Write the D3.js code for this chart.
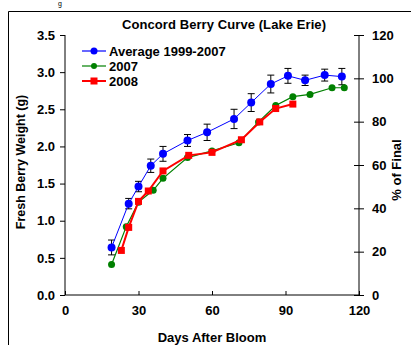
<!DOCTYPE html>
<html><head><meta charset="utf-8">
<script src="https://cdn.jsdelivr.net/npm/d3@7"></script>
<style>body{margin:0;background:#fff}svg{display:block}text{font-family:"Liberation Sans",Arial,sans-serif;font-weight:bold;fill:#000}</style>
</head><body><svg id="c" width="411" height="345"></svg>
<script>
const title = "Concord Berry Curve (Lake Erie)";
const xTicks = [0, 30, 60, 90, 120];
const yTicks = [0, 0.5, 1.0, 1.5, 2.0, 2.5, 3.0, 3.5];
const pctTicks = [0, 20, 40, 60, 80, 100, 120];
const seriesNames = ["Average 1999-2007", "2007", "2008"];
const avgDays = [19, 26, 30, 35, 40, 50, 58, 69, 76, 84, 91, 98, 106, 113];
const avgWeight = [0.64, 1.23, 1.46, 1.74, 1.90, 2.08, 2.19, 2.37, 2.59, 2.84, 2.95, 2.89, 2.96, 2.94];
const avgErr = [0.10, 0.07, 0.07, 0.09, 0.10, 0.08, 0.11, 0.13, 0.12, 0.12, 0.10, 0.07, 0.08, 0.11];
const days2007 = [19, 25, 30, 36, 40, 50, 60, 71, 79, 86, 93, 100, 109, 114];
const weight2007 = [0.41, 0.92, 1.25, 1.41, 1.57, 1.85, 1.94, 2.05, 2.33, 2.55, 2.67, 2.70, 2.79, 2.79];
const days2008 = [23, 26, 30, 34, 40, 50.5, 60, 72, 79.5, 86, 93];
const weight2008 = [0.60, 0.91, 1.26, 1.40, 1.67, 1.88, 1.92, 2.09, 2.33, 2.51, 2.57];

const svg = d3.select("#c");
const L = 65, R = 359, T = 35, B = 295;
const x = d3.scaleLinear().domain([0, 120]).range([L, R]);
const y = d3.scaleLinear().domain([0, 3.5]).range([B, T]);
const y2 = d3.scaleLinear().domain([0, 120]).range([B, T]);

// outer frame
svg.append("path").attr("d", "M8.5,360 V11.5 H420").attr("fill", "none").attr("stroke", "#000").attr("stroke-width", 1);
// descender of text from above the frame
svg.append("text").attr("x", 58).attr("y", 6).attr("font-size", 7).style("font-weight","normal").text("g");

const fmt1 = d3.format(".1f");
const FS = 13;
const gx = svg.append("g").attr("transform", `translate(0,${B})`)
  .call(d3.axisBottom(x).tickValues(xTicks).tickSize(0).tickPadding(11));
const gy = svg.append("g").attr("transform", `translate(${L},0)`)
  .call(d3.axisLeft(y).tickValues(yTicks).tickFormat(fmt1).tickSize(5).tickPadding(5));
const gy2 = svg.append("g").attr("transform", `translate(${R},0)`)
  .call(d3.axisRight(y2).tickValues(pctTicks).tickSize(5).tickPadding(8));
gx.selectAll(".tick line").attr("y1", -4).attr("y2", 0);
gy2.selectAll(".tick line").attr("x1", -5).attr("x2", 5);
[gx, gy, gy2].forEach(g => {
  g.select(".domain").attr("stroke", "#000");
  g.selectAll(".tick line").attr("stroke", "#000");
  g.selectAll("text").attr("font-size", FS).style("font-family", '"Liberation Sans",Arial,sans-serif').style("font-weight", "bold");
});
gy.select(".domain").attr("d", `M0,${B}V${T}`);
gy2.select(".domain").attr("d", `M0,${B}V${T}`);
gx.select(".domain").attr("d", `M${L},0H${R}`);

// titles
svg.append("text").attr("x", 122).attr("y", 29).attr("font-size", 13)
  .attr("textLength", 204).attr("lengthAdjust", "spacing").text(title);
svg.append("text").attr("x", 212).attr("y", 342).attr("text-anchor", "middle").attr("font-size", 13).text("Days After Bloom");
svg.append("text").attr("transform", "translate(25,162) rotate(-90)").attr("text-anchor", "middle").attr("font-size", 12.5).text("Fresh Berry Weight (g)");
svg.append("text").attr("transform", "translate(401,170) rotate(-90)").attr("text-anchor", "middle").attr("font-size", 13).text("% of Final");

const line = d3.line().x(d => x(d[0])).y(d => y(d[1]));
const avg = avgDays.map((d, i) => [d, avgWeight[i], avgErr[i]]);
const s07 = days2007.map((d, i) => [d, weight2007[i]]);
const s08 = days2008.map((d, i) => [d, weight2008[i]]);

// error bars
const eb = svg.append("g").attr("stroke", "#000").attr("stroke-width", 1);
avg.forEach(d => {
  const cx = x(d[0]);
  eb.append("line").attr("x1", cx).attr("x2", cx).attr("y1", y(d[1] - d[2])).attr("y2", y(d[1] + d[2]));
  eb.append("line").attr("x1", cx - 3.5).attr("x2", cx + 3.5).attr("y1", y(d[1] - d[2])).attr("y2", y(d[1] - d[2]));
  eb.append("line").attr("x1", cx - 3.5).attr("x2", cx + 3.5).attr("y1", y(d[1] + d[2])).attr("y2", y(d[1] + d[2]));
});

const colors = ["#0000ff", "#008000", "#ff0000"];
svg.append("path").datum(s07).attr("d", line).attr("fill", "none").attr("stroke", colors[1]).attr("stroke-width", 1.2);
svg.selectAll(".g07").data(s07).join("circle").attr("cx", d => x(d[0])).attr("cy", d => y(d[1])).attr("r", 3.5).attr("fill", colors[1]);
svg.append("path").datum(s08).attr("d", line).attr("fill", "none").attr("stroke", colors[2]).attr("stroke-width", 2);
svg.selectAll(".r08").data(s08).join("rect").attr("x", d => x(d[0]) - 3.5).attr("y", d => y(d[1]) - 3.5).attr("width", 7).attr("height", 7).attr("fill", colors[2]);
svg.append("path").datum(avg).attr("d", line).attr("fill", "none").attr("stroke", colors[0]).attr("stroke-width", 1);
svg.selectAll(".bavg").data(avg).join("circle").attr("cx", d => x(d[0])).attr("cy", d => y(d[1])).attr("r", 4).attr("fill", colors[0]);

// legend
const lg = svg.append("g");
seriesNames.forEach((n, i) => {
  const yy = 51 + i * 15;
  lg.append("line").attr("x1", 82).attr("x2", 106).attr("y1", yy).attr("y2", yy).attr("stroke", colors[i]).attr("stroke-width", i === 2 ? 2 : 1.2);
  if (i === 2) lg.append("rect").attr("x", 90.5).attr("y", yy - 3.5).attr("width", 7).attr("height", 7).attr("fill", colors[i]);
  else lg.append("circle").attr("cx", 94).attr("cy", yy).attr("r", i === 0 ? 3.5 : 3).attr("fill", colors[i]);
  lg.append("text").attr("x", 109).attr("y", yy + 4.5).attr("font-size", 13).text(n);
});
</script></body></html>
